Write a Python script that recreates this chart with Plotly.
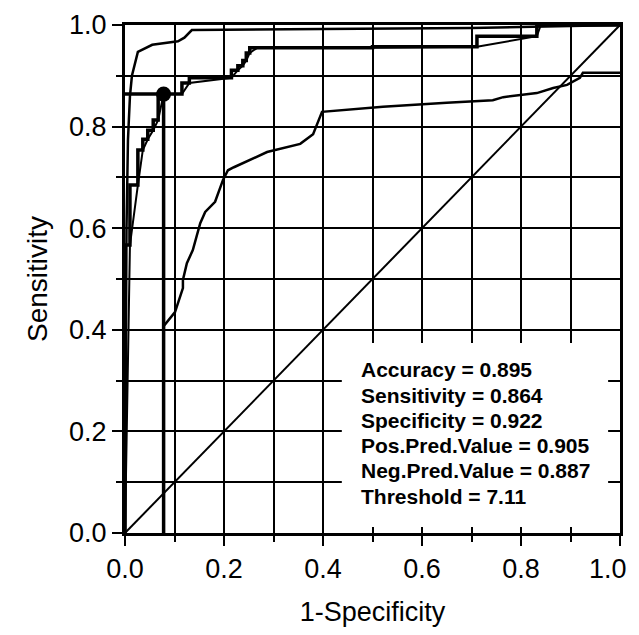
import plotly.graph_objects as go

# Empirical (stepwise) ROC curve corners
step_fpr = [0.0, 0.010, 0.026, 0.036, 0.046, 0.057, 0.067, 0.078, 0.115, 0.130, 0.215, 0.228, 0.238, 0.245, 0.252, 0.267, 0.500, 0.711, 0.832, 0.840, 1.0]
step_tpr = [0.0, 0.567, 0.685, 0.754, 0.775, 0.793, 0.813, 0.864, 0.864, 0.886, 0.896, 0.911, 0.920, 0.930, 0.945, 0.955, 0.955, 0.957, 0.978, 1.0, 1.0]

# Top (best) ROC curve
top_fpr = [0.0, 0.003, 0.006, 0.010, 0.014, 0.026, 0.055, 0.107, 0.120, 0.135, 0.40, 0.70, 1.0]
top_tpr = [0.0, 0.600, 0.774, 0.860, 0.900, 0.947, 0.961, 0.968, 0.975, 0.990, 0.992, 0.994, 1.0]

# Middle ROC curve
mid_fpr = [0.078, 0.078, 0.101, 0.111, 0.117, 0.117, 0.125, 0.137, 0.152, 0.162, 0.182, 0.198, 0.208, 0.220, 0.287, 0.354, 0.380, 0.398, 0.521, 0.650, 0.743, 0.764, 0.832, 0.865, 0.893, 0.919, 0.925, 1.0]
mid_tpr = [0.0, 0.407, 0.435, 0.463, 0.482, 0.498, 0.531, 0.557, 0.610, 0.632, 0.652, 0.695, 0.714, 0.720, 0.750, 0.766, 0.785, 0.829, 0.839, 0.847, 0.852, 0.858, 0.866, 0.876, 0.882, 0.896, 0.906, 0.906]

# Chance line
diag = [0.0, 1.0]

# Operating point
op_fpr = 0.078
op_tpr = 0.864

stat_labels = ["Accuracy", "Sensitivity", "Specificity", "Pos.Pred.Value", "Neg.Pred.Value", "Threshold"]
stat_values = ["0.895", "0.864", "0.922", "0.905", "0.887", "7.11"]

tick_vals = [0.0, 0.2, 0.4, 0.6, 0.8, 1.0]
tick_text = ["0.0", "0.2", "0.4", "0.6", "0.8", "1.0"]

FONT = "Liberation Sans, Arial, Helvetica, sans-serif"

fig = go.Figure()

fig.add_trace(go.Scatter(x=diag, y=diag, mode="lines", line=dict(color="black", width=2)))
fig.add_trace(go.Scatter(x=mid_fpr, y=mid_tpr, mode="lines", line=dict(color="black", width=2.5)))
fig.add_trace(go.Scatter(x=top_fpr, y=top_tpr, mode="lines", line=dict(color="black", width=2.5)))
fig.add_trace(go.Scatter(x=step_fpr, y=step_tpr, mode="lines", line=dict(color="black", width=2)))
fig.add_trace(go.Scatter(x=step_fpr, y=step_tpr, mode="lines", line=dict(color="black", width=3.5, shape="vh")))
fig.add_trace(go.Scatter(x=[0.0, op_fpr, op_fpr], y=[op_tpr, op_tpr, 0.0], mode="lines",
                         line=dict(color="black", width=3.5)))
fig.add_trace(go.Scatter(x=[op_fpr], y=[op_tpr], mode="markers",
                         marker=dict(color="black", size=15)))

# white box behind statistics
fig.add_shape(type="rect", xref="x", yref="y", x0=0.438, x1=0.976, y0=0.012, y1=0.374,
              fillcolor="white", line=dict(width=0), layer="between")

y_top = 0.321
for i, (lab, val) in enumerate(zip(stat_labels, stat_values)):
    fig.add_annotation(x=0.473, y=y_top - i * 0.0497, xref="x", yref="y",
                       text=f"<b>{lab} = {val}</b>", showarrow=False,
                       xanchor="left", yanchor="middle",
                       font=dict(family=FONT, size=21, color="black"))

TICK_FONT = dict(family=FONT, size=27, color="black")

axis_common = dict(
    range=[0, 1], showline=True, linecolor="black", linewidth=3, mirror=True,
    showgrid=True, gridcolor="black", gridwidth=1.5, dtick=0.1, tick0=0,
    ticks="outside", ticklen=10, tickwidth=2, tickcolor="black",
    tickvals=tick_vals,
    tickfont=TICK_FONT,
    minor=dict(dtick=0.1, tick0=0, ticks="outside", ticklen=6, tickwidth=2, tickcolor="black",
               showgrid=True, gridcolor="black", gridwidth=1.5),
    zeroline=False, fixedrange=True, automargin=False,
)

# last x tick label is drawn as an annotation, nudged so it is not cut at the page edge
x_ticktext = tick_text[:-1] + [""]
fig.update_xaxes(**axis_common, ticktext=x_ticktext,
                 title=dict(text="1-Specificity", font=dict(family=FONT, size=27, color="black"), standoff=20))
fig.update_yaxes(**axis_common, ticktext=tick_text,
                 title=dict(text="Sensitivity", font=dict(family=FONT, size=28, color="black"), standoff=14))

fig.add_annotation(x=tick_vals[-1], y=0, xref="x", yref="paper", text=tick_text[-1],
                   showarrow=False, xanchor="right", yanchor="middle", xshift=9, yshift=-36,
                   font=TICK_FONT)

fig.update_layout(
    width=631, height=619,
    margin=dict(l=117, r=19, t=17, b=94),
    paper_bgcolor="white", plot_bgcolor="white",
    showlegend=False,
)

fig.write_html("out.html")
